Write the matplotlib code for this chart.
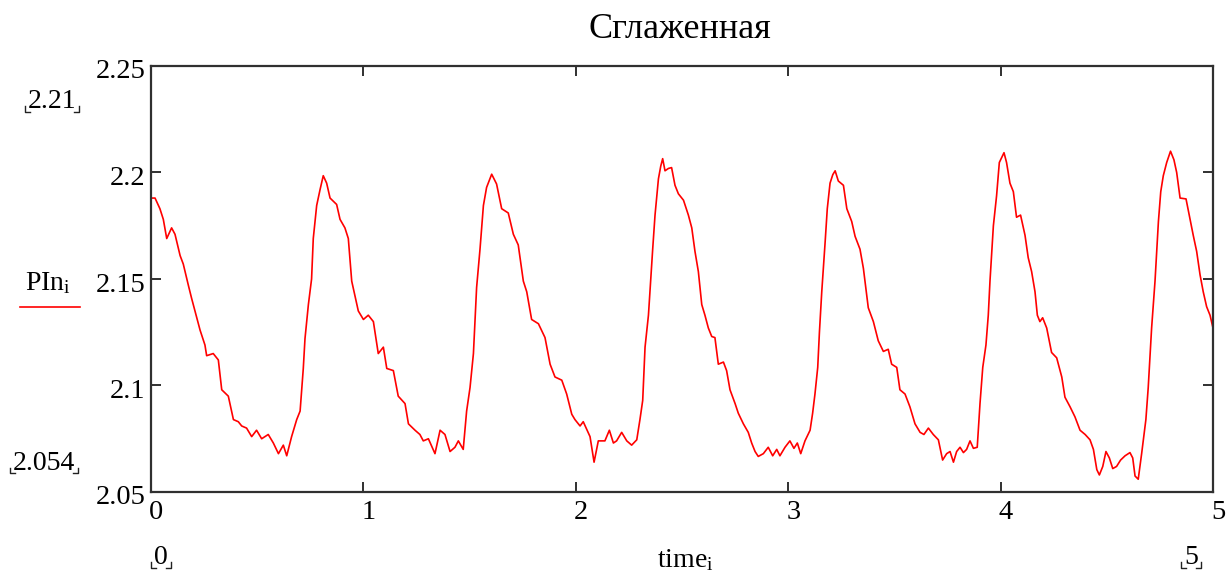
import numpy as np
import matplotlib
matplotlib.use("Agg")
import matplotlib.pyplot as plt
from matplotlib.lines import Line2D
from matplotlib.transforms import ScaledTranslation

# ---------------- data ----------------
time_a = [0.0, 0.019, 0.042, 0.058, 0.074, 0.097, 0.113, 0.137, 0.152, 0.176,
          0.191, 0.215, 0.231, 0.254, 0.262, 0.293, 0.317, 0.333, 0.364, 0.388,
          0.411, 0.427, 0.450, 0.474, 0.497, 0.521, 0.552, 0.576, 0.600, 0.623,
          0.639, 0.662, 0.686, 0.702, 0.717, 0.725, 0.741, 0.756, 0.764, 0.780,
          0.796, 0.811, 0.827, 0.843, 0.874, 0.890, 0.913, 0.929, 0.945, 0.976,
          1.000, 1.023, 1.047, 1.070, 1.094, 1.110, 1.141, 1.164, 1.196, 1.212,
          1.243, 1.266, 1.282, 1.306, 1.337, 1.361, 1.384, 1.408, 1.431, 1.447,
          1.470, 1.486, 1.502, 1.518, 1.533, 1.549, 1.565, 1.580, 1.604, 1.627,
          1.651, 1.682, 1.706, 1.729, 1.753, 1.769, 1.792, 1.824, 1.855, 1.879,
          1.902, 1.934, 1.957, 1.981, 1.996, 2.020, 2.035]
pin_a = [2.188, 2.188, 2.183, 2.178, 2.169, 2.174, 2.171, 2.161, 2.157, 2.147,
         2.141, 2.132, 2.126, 2.119, 2.114, 2.115, 2.112, 2.098, 2.095, 2.084,
         2.083, 2.081, 2.080, 2.076, 2.079, 2.075, 2.077, 2.073, 2.068, 2.072,
         2.067, 2.076, 2.084, 2.088, 2.108, 2.122, 2.138, 2.150, 2.169, 2.1845,
         2.192, 2.1985, 2.195, 2.188, 2.185, 2.178, 2.174, 2.169, 2.149, 2.135,
         2.131, 2.133, 2.130, 2.115, 2.118, 2.108, 2.107, 2.095, 2.0915, 2.082,
         2.079, 2.077, 2.074, 2.075, 2.068, 2.079, 2.077, 2.069, 2.071, 2.074,
         2.070, 2.088, 2.099, 2.115, 2.146, 2.164, 2.1845, 2.193, 2.1992, 2.1946,
         2.183, 2.181, 2.171, 2.166, 2.149, 2.144, 2.131, 2.129, 2.1225, 2.110,
         2.104, 2.1025, 2.096, 2.0865, 2.084, 2.081, 2.083]

time_b = [2.067, 2.086, 2.106, 2.137, 2.158, 2.177, 2.192, 2.216, 2.240, 2.263,
          2.287, 2.302, 2.315, 2.326, 2.342, 2.349, 2.362, 2.373, 2.389, 2.400,
          2.409, 2.420, 2.436, 2.451, 2.467, 2.483, 2.507, 2.530, 2.546, 2.561,
          2.577, 2.593, 2.608, 2.624, 2.640, 2.655, 2.671, 2.695, 2.710, 2.726,
          2.750, 2.765, 2.789, 2.812, 2.828, 2.844, 2.859, 2.883, 2.906, 2.927,
          2.946, 2.961, 2.985, 3.008, 3.027, 3.043, 3.059, 3.079, 3.103, 3.115,
          3.126, 3.139, 3.147, 3.158, 3.174, 3.184, 3.197, 3.210, 3.221, 3.236,
          3.260, 3.276, 3.299, 3.315, 3.338, 3.354, 3.377, 3.401, 3.424, 3.448,
          3.471, 3.487, 3.511, 3.526, 3.550, 3.573]
pin_b = [2.076, 2.064, 2.074, 2.074, 2.079, 2.073, 2.074, 2.078, 2.074, 2.072,
         2.0745, 2.084, 2.093, 2.118, 2.133, 2.144, 2.164, 2.180, 2.197, 2.203,
         2.2065, 2.2008, 2.2019, 2.2023, 2.194, 2.190, 2.187, 2.180, 2.174, 2.163,
         2.1535, 2.138, 2.133, 2.127, 2.123, 2.1225, 2.110, 2.111, 2.107, 2.098,
         2.0915, 2.087, 2.082, 2.078, 2.073, 2.069, 2.0667, 2.068, 2.071, 2.067,
         2.070, 2.067, 2.071, 2.074, 2.0705, 2.073, 2.068, 2.074, 2.079, 2.087,
         2.096, 2.1085, 2.125, 2.144, 2.1675, 2.183, 2.195, 2.199, 2.2008, 2.196,
         2.194, 2.183, 2.177, 2.170, 2.164, 2.155, 2.1365, 2.130, 2.121, 2.116,
         2.117, 2.110, 2.1085, 2.098, 2.096, 2.090]

time_c = [3.597, 3.621, 3.639, 3.660, 3.683, 3.707, 3.727, 3.746, 3.762, 3.778,
          3.793, 3.809, 3.825, 3.840, 3.856, 3.872, 3.890, 3.903, 3.916, 3.931,
          3.942, 3.950, 3.966, 3.981, 3.994, 4.016, 4.028, 4.044, 4.060, 4.075,
          4.094, 4.115, 4.130, 4.146, 4.162, 4.173, 4.185, 4.198, 4.217, 4.240,
          4.264, 4.288, 4.303, 4.327, 4.350, 4.374, 4.398, 4.421, 4.437, 4.453,
          4.465, 4.481, 4.496, 4.512, 4.528, 4.546, 4.565, 4.586, 4.609, 4.622,
          4.633, 4.648, 4.664, 4.684, 4.695, 4.711, 4.727, 4.743, 4.754, 4.766,
          4.782, 4.800, 4.816, 4.829, 4.845, 4.873, 4.892, 4.907, 4.923, 4.939,
          4.954, 4.970, 4.986, 5.0]
pin_c = [2.082, 2.078, 2.077, 2.080, 2.077, 2.0745, 2.065, 2.068, 2.069, 2.064,
         2.069, 2.071, 2.0685, 2.070, 2.074, 2.0705, 2.071, 2.0915, 2.1085, 2.119,
         2.133, 2.149, 2.175, 2.189, 2.2047, 2.2093, 2.2047, 2.195, 2.191, 2.179,
         2.180, 2.1705, 2.160, 2.1535, 2.144, 2.133, 2.130, 2.1318, 2.127, 2.1155,
         2.113, 2.104, 2.0945, 2.090, 2.0853, 2.079, 2.077, 2.0745, 2.070, 2.0605,
         2.058, 2.062, 2.069, 2.066, 2.061, 2.062, 2.065, 2.067, 2.0685, 2.066,
         2.0575, 2.056, 2.068, 2.084, 2.099, 2.127, 2.149, 2.177, 2.191, 2.1985,
         2.2047, 2.210, 2.206, 2.200, 2.188, 2.1876, 2.178, 2.1705, 2.163, 2.152,
         2.144, 2.137, 2.133, 2.127]

x_ticks = [0, 1, 2, 3, 4, 5]
y_ticks = [2.05, 2.1, 2.15, 2.2, 2.25]
y_tick_labels = ["2.05", "2.1", "2.15", "2.2", "2.25"]
title_text = "Сглаженная"
y_marker_top = "2.21"
y_marker_bottom = "2.054"
x_marker_left = "0"
x_marker_right = "5"
x_name = r"time$_\mathrm{i}$"
y_name = r"PIn$_\mathrm{i}$"

time = np.concatenate([time_a, time_b, time_c])
pin = np.concatenate([pin_a, pin_b, pin_c])

# ---------------- styling ----------------
plt.rcParams['font.family'] = ['Liberation Serif', 'DejaVu Serif']
plt.rcParams['mathtext.fontset'] = 'custom'
plt.rcParams['mathtext.rm'] = 'Liberation Serif'
plt.rcParams['mathtext.it'] = 'Liberation Serif:italic'

W, H = 1226, 573
fig = plt.figure(figsize=(W / 100, H / 100), dpi=100)
fig.patch.set_facecolor('white')

L, R, T, B = 151, 1213, 66, 492
ax = fig.add_axes([L / W, 1 - B / H, (R - L) / W, (B - T) / H])

ax.plot(time, pin, color='#ff0000', lw=1.2)

ax.set_xlim(0, 5)
ax.set_ylim(2.05, 2.25)
ax.set_xticks(x_ticks)
ax.set_xticklabels([str(v) for v in x_ticks])
ax.set_yticks(y_ticks)
ax.set_yticklabels(y_tick_labels)

for s in ax.spines.values():
    s.set_color('#303030')
    s.set_linewidth(1.6)

ax.tick_params(which='both', direction='in', length=7.5, width=1.4,
               color='#303030', top=True, right=True, labelsize=20.5,
               labelcolor='black')
ax.tick_params(axis='x', pad=6)
ax.tick_params(axis='y', pad=4)

dx = ScaledTranslation(5 / 100, 0, fig.dpi_scale_trans)
for lab in ax.get_xticklabels():
    lab.set_transform(lab.get_transform() + dx)
dy = ScaledTranslation(0, -3 / 100, fig.dpi_scale_trans)
for lab in ax.get_yticklabels():
    lab.set_transform(lab.get_transform() + dy)


def fx(px):
    return px / W


def fy(py):
    return 1 - py / H


# title
fig.text(fx(680), fy(29), title_text, ha='center', va='center', fontsize=26)

marker_texts = []


def bracketed(xc, yc, s, size=20):
    t = fig.text(fx(xc), fy(yc), s, ha='center', va='center', fontsize=size)
    marker_texts.append(t)
    return t


bracketed(52, 101, y_marker_top)
bracketed(44, 463, y_marker_bottom)
bracketed(161, 557, x_marker_left)
bracketed(1191, 557, x_marker_right)

fig.text(fx(685), fy(560), x_name, ha='center', va='center', fontsize=20)
fig.text(fx(48), fy(283), y_name, ha='center', va='center', fontsize=20)
fig.add_artist(Line2D([fx(20), fx(80)], [fy(307), fy(307)], color='#ff0000',
                      lw=1.2, transform=fig.transFigure))

# small Mathcad-style corner brackets around the range markers
fig.canvas.draw()
renderer = fig.canvas.get_renderer()
for t in marker_texts:
    bb = t.get_window_extent(renderer)
    yb = bb.y0 + 2
    yt = bb.y0 + 8
    xl = bb.x0 - 3
    xr = bb.x1 + 3
    for xs, ys in (([xl, xl, xl + 5], [yt, yb, yb]),
                   ([xr - 5, xr, xr], [yb, yb, yt])):
        fig.add_artist(Line2D([v / W for v in xs], [v / H for v in ys],
                              color='#222222', lw=1.0,
                              transform=fig.transFigure))

fig.savefig('out.png', dpi=100, facecolor='white')
